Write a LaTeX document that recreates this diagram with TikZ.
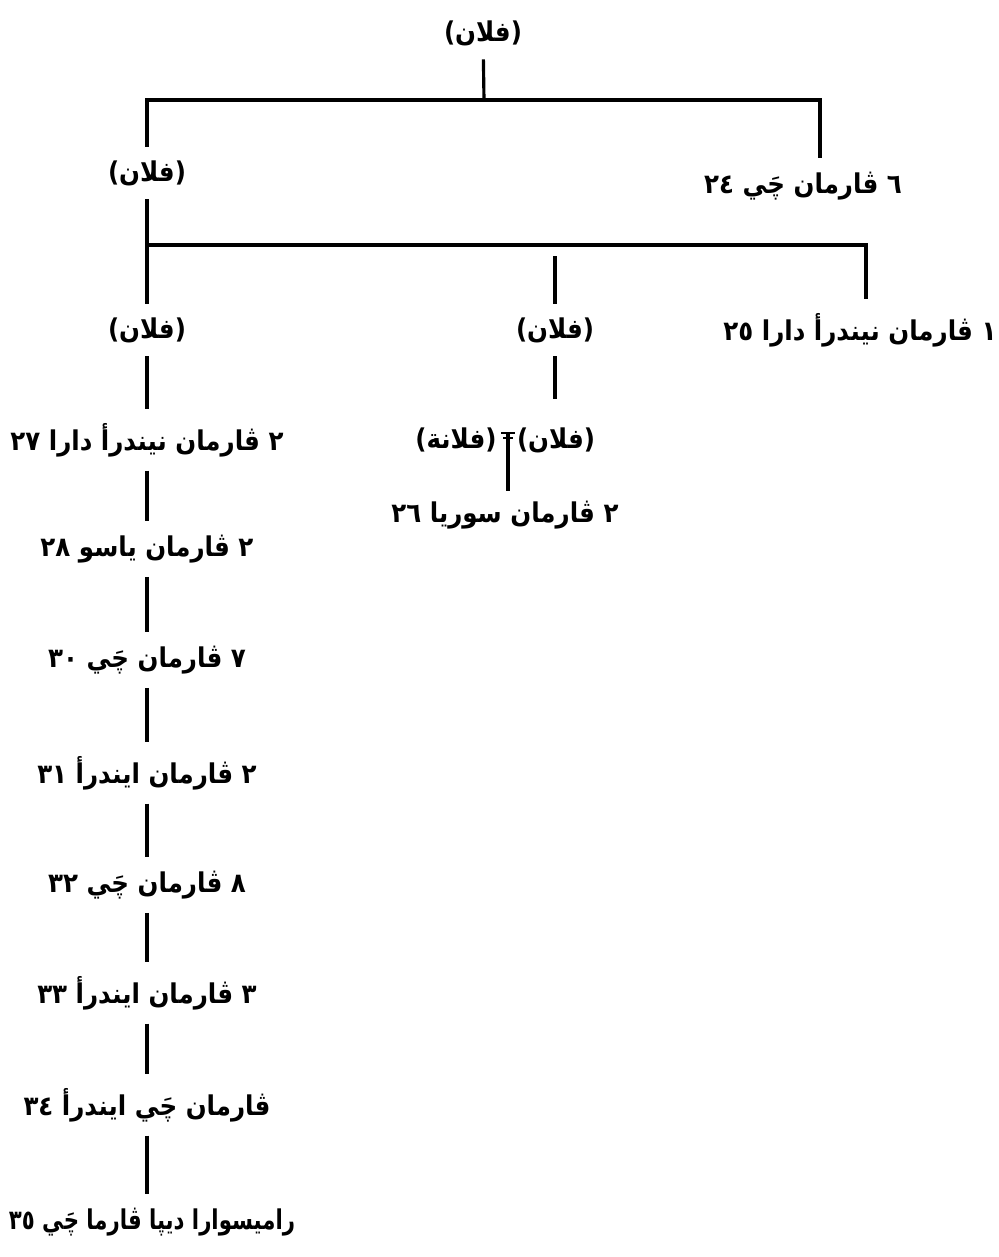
\documentclass[tikz,border=0pt]{standalone}
\usepackage{fontspec}
\TeXXeTstate=1
\newfontfamily\arabicfont[Script=Arabic,FakeStretch=0.9]{DejaVu Sans}
\newfontfamily\arabicnarrow[Script=Arabic,FakeStretch=0.78]{DejaVu Sans}
\usetikzlibrary{positioning}

\begin{document}
\begin{tikzpicture}[x=0.02cm, y=-0.02cm, line width=1.8pt,
  nm/.style={font=\arabicfont\bfseries\fontsize{15.5}{18}\selectfont, inner sep=1pt},
  tree/.style={shorten <=6pt, shorten >=6pt},
  drop/.style={shorten <=6pt}]
\useasboundingbox (0,0) rectangle (998,1257);
% top generations
\node[nm] (root) at (483,33) {(فلان)};
\node[nm] (a) at (147,173) {(فلان)};
\node[nm] (k24) at (803,186) {\beginR ٦ ڤارمان چَي ٢٤\endR};
\node[nm] (b) at (147,330) {(فلان)};
\node[nm] (c) at (555,330) {(فلان)};
\node[nm] (k25) at (860,330) {\beginR ١ ڤارمان نيندرأ دارا ٢٥\endR};
% marriage
\node[nm] (wife) at (456,440) {(فلانة)};
\node[nm] (d) at (556,440) {(فلان)};
\node[nm] (k26) at (505,515) {\beginR ٢ ڤارمان سوريا ٢٦\endR};
% left line
\node[nm] (k27) at (147,440) {\beginR ٢ ڤارمان نيندرأ دارا ٢٧\endR};
\node[nm] (k28) at (147,549) {\beginR ٢ ڤارمان ياسو ٢٨\endR};
\node[nm] (k30) at (147,660) {\beginR ٧ ڤارمان چَي ٣٠\endR};
\node[nm] (k31) at (147,773) {\beginR ٢ ڤارمان ايندرأ ٣١\endR};
\node[nm] (k32) at (147,885) {\beginR ٨ ڤارمان چَي ٣٢\endR};
\node[nm] (k33) at (147,993) {\beginR ٣ ڤارمان ايندرأ ٣٣\endR};
\node[nm] (k34) at (147,1105) {\beginR ڤارمان چَي ايندرأ ٣٤\endR};
\node[nm, font=\arabicnarrow\bfseries\fontsize{15.5}{18}\selectfont] (k35) at (152,1222) {\beginR راميسوارا ديپا ڤارما چَي ٣٥\endR};
% bars
\coordinate (bar1) at (484,100);
\coordinate (bar1r) at (820,100);
\coordinate (bar2l) at (147,245);
\coordinate (bar2r) at (866,245);
\coordinate (wed) at (508,433);
\draw[drop] (root) -- (bar1);
\draw[tree] (a) -- (a |- bar1) -- (bar1r) -- (bar1r |- k24.north);
\draw[drop] (a) -- (bar2l);
\draw[tree] (b) -- (bar2l) -- (bar2r) -- (bar2r |- k25.north);
\draw[tree] (c) -- (c |- bar2l);
\draw[shorten <=6pt, shorten >=14pt] (c) -- (c |- d.north);
\draw[line width=1pt] (wed) +(-7,0) -- +(7,0) (wed) +(-5,5) -- +(5,5);
\draw[shorten >=4pt] (wed) -- (wed |- k26.north);
\foreach \u/\v in {b/k27,k27/k28,k28/k30,k30/k31,k31/k32,k32/k33,k33/k34,k34/k35}
  \draw[tree] (\u) -- (\u |- \v.north);
\end{tikzpicture}
\end{document}
